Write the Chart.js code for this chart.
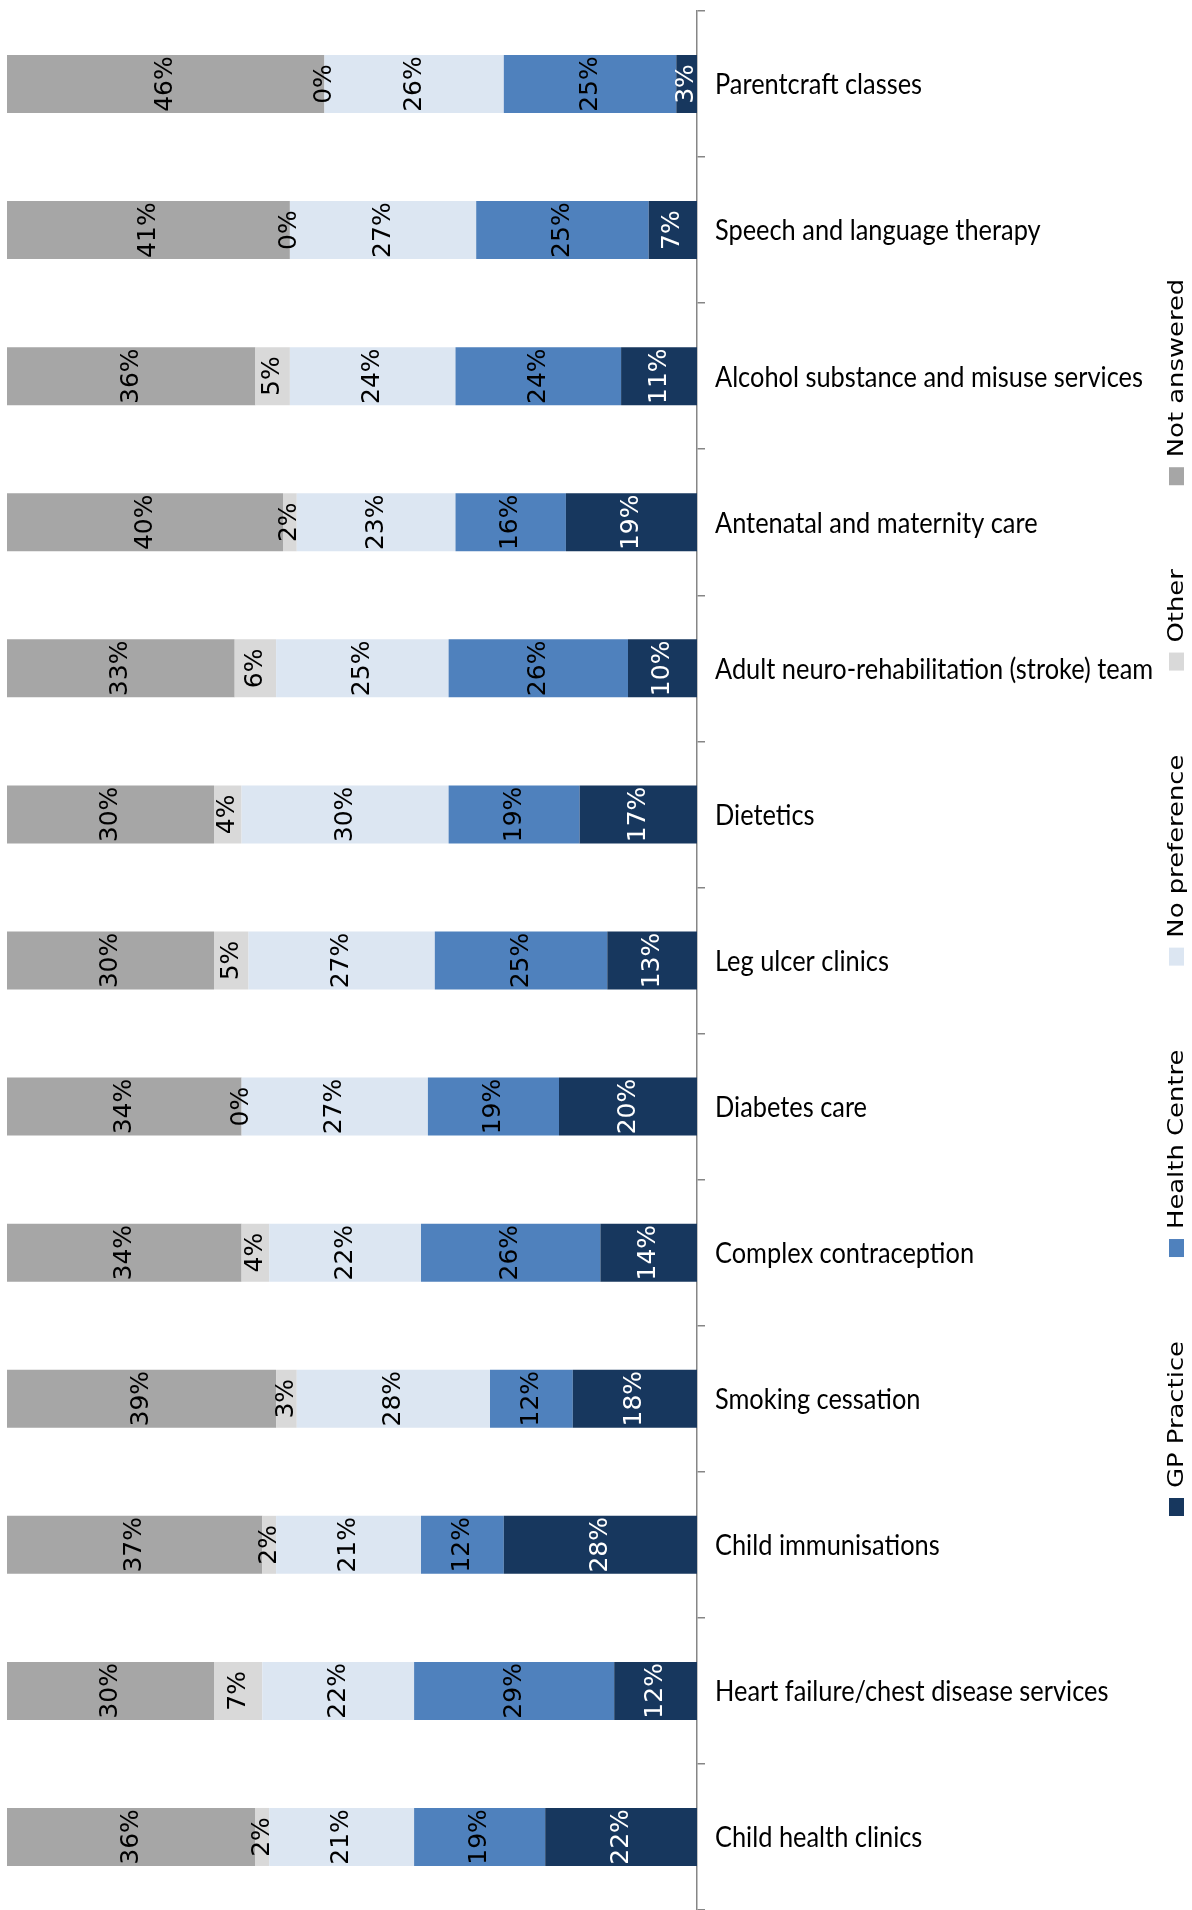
<!DOCTYPE html>
<html>
<head>
<meta charset="utf-8">
<script src="https://cdn.jsdelivr.net/npm/chart.js@4/dist/chart.umd.min.js"></script>
<style>
  html, body { margin: 0; padding: 0; background: #fff; }
  #wrap { width: 1192px; height: 1910px; position: relative; }
</style>
</head>
<body>
<div id="wrap"><canvas id="chart"></canvas></div>
<script>
const categories = [
  "Parentcraft classes",
  "Speech and language therapy",
  "Alcohol substance and misuse services",
  "Antenatal and maternity care",
  "Adult neuro-rehabilitation (stroke) team",
  "Dietetics",
  "Leg ulcer clinics",
  "Diabetes care",
  "Complex contraception",
  "Smoking cessation",
  "Child immunisations",
  "Heart failure/chest disease services",
  "Child health clinics",
];

const gpPractice = [3, 7, 11, 19, 10, 17, 13, 20, 14, 18, 28, 12, 22];
const healthCentre = [25, 25, 24, 16, 26, 19, 25, 19, 26, 12, 12, 29, 19];
const noPreference = [26, 27, 24, 23, 25, 30, 27, 27, 22, 28, 21, 22, 21];
const other = [0, 0, 5, 2, 6, 4, 5, 0, 4, 3, 2, 7, 2];
const notAnswered = [46, 41, 36, 40, 33, 30, 30, 34, 34, 39, 37, 30, 36];

const seriesNames = ["GP Practice", "Health Centre", "No preference", "Other", "Not answered"];
const seriesColors = ["#17375E", "#4F81BD", "#DCE6F2", "#D9D9D9", "#A6A6A6"];
const labelColors = ["#FFFFFF", "#000000", "#000000", "#000000", "#000000"];

// rotated percentage labels inside each segment
const segmentLabels = {
  id: "segmentLabels",
  afterDatasetsDraw(chart) {
    const ctx = chart.ctx;
    ctx.save();
    ctx.font = "25px 'DejaVu Sans'";
    ctx.textAlign = "center";
    ctx.textBaseline = "middle";
    chart.data.datasets.forEach((ds, i) => {
      const meta = chart.getDatasetMeta(i);
      meta.data.forEach((bar, j) => {
        const cx = (bar.x + bar.base) / 2;
        ctx.save();
        ctx.translate(cx, bar.y);
        ctx.rotate(-Math.PI / 2);
        ctx.fillStyle = labelColors[i];
        ctx.fillText(ds.data[j] + "%", 0, 0);
        ctx.restore();
      });
    });
    ctx.restore();
  },
};

// category names right of the axis, narrowed a little
const categoryLabels = {
  id: "categoryLabels",
  afterDraw(chart) {
    const ctx = chart.ctx;
    const y = chart.scales.y;
    const x0 = chart.chartArea.right + 18;
    const narrow = 0.875;
    ctx.save();
    ctx.font = "29px Lato";
    ctx.fillStyle = "#000";
    ctx.textAlign = "left";
    ctx.textBaseline = "middle";
    chart.data.labels.forEach((label, i) => {
      ctx.save();
      ctx.translate(x0, y.getPixelForTick(i) + 1);
      ctx.scale(narrow, 1);
      ctx.fillText(label, 0, 0);
      ctx.restore();
    });
    ctx.restore();
  },
};

// vertical legend down the right edge, first series at the bottom
const sideLegend = {
  id: "sideLegend",
  afterDraw(chart) {
    const ctx = chart.ctx;
    const stretch = 1.23;
    let cur = 1516;
    ctx.save();
    ctx.font = "21px 'DejaVu Sans'";
    ctx.textAlign = "left";
    ctx.textBaseline = "alphabetic";
    chart.data.datasets.forEach((ds) => {
      ctx.fillStyle = ds.backgroundColor;
      ctx.fillRect(1169, cur - 18, 15, 18);
      const start = cur - 28;
      const len = ctx.measureText(ds.label).width * stretch;
      ctx.save();
      ctx.translate(1183, start);
      ctx.rotate(-Math.PI / 2);
      ctx.scale(stretch, 1);
      ctx.fillStyle = "#000";
      ctx.fillText(ds.label, 0, 0);
      ctx.restore();
      cur = start - len - 84;
    });
    ctx.restore();
  },
};

const series = [gpPractice, healthCentre, noPreference, other, notAnswered];

new Chart(document.getElementById("chart"), {
  type: "bar",
  data: {
    labels: categories,
    datasets: series.map((values, i) => ({
      label: seriesNames[i],
      data: values,
      backgroundColor: seriesColors[i],
      borderWidth: 0,
      barPercentage: 0.397,
      categoryPercentage: 1,
    })),
  },
  options: {
    indexAxis: "y",
    responsive: true,
    maintainAspectRatio: false,
    animation: false,
    layout: { padding: { left: 7, top: 11, right: 0, bottom: 0 } },
    plugins: {
      legend: { display: false },
      tooltip: { enabled: false },
    },
    scales: {
      x: {
        stacked: true,
        reverse: true,
        min: 0,
        max: 100,
        display: false,
      },
      y: {
        stacked: true,
        position: "right",
        offset: true,
        grid: {
          offset: true,
          drawOnChartArea: false,
          tickLength: 8,
          color: "#868686",
          lineWidth: 1.5,
        },
        border: { color: "#868686", width: 1.5 },
        ticks: { display: false },
        afterFit(scale) {
          scale.width = 495;
        },
      },
    },
  },
  plugins: [segmentLabels, categoryLabels, sideLegend],
});
</script>
</body>
</html>
